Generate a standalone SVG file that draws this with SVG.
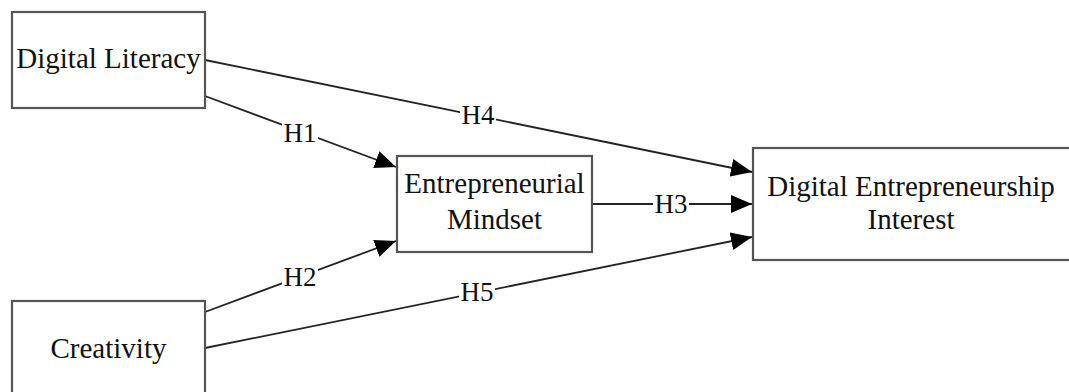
<svg xmlns="http://www.w3.org/2000/svg" width="1069" height="392" viewBox="0 0 1069 392">
<style>
.box{fill:#fff;stroke:#555;stroke-width:2.2}
.t{font-family:"Liberation Serif","Times New Roman",serif;font-size:29px;fill:#111;text-anchor:middle}
.lb{font-family:"Liberation Serif","Times New Roman",serif;font-size:27px;fill:#111;text-anchor:middle;dominant-baseline:central}
.e{stroke:#222;stroke-width:1.8;fill:none;marker-end:url(#ah)}
.lbg{fill:#fff}
</style>
<defs>
<marker id="ah" markerUnits="userSpaceOnUse" markerWidth="22" markerHeight="18" viewBox="0 0 22 18" refX="21" refY="9" orient="auto">
<path d="M0,0 L21,9 L0,18 Z" fill="#000"/>
</marker>
</defs>
<rect width="1069" height="392" fill="#fff"/>
<g id="connectors">
<line class="e" x1="205" y1="60" x2="752" y2="172"/>
<line class="e" x1="205" y1="96" x2="396" y2="167"/>
<line class="e" x1="592" y1="204" x2="752" y2="204"/>
<line class="e" x1="205" y1="312" x2="396" y2="241"/>
<line class="e" x1="205" y1="348" x2="752" y2="237"/>
<rect class="lbg" x="460" y="102" width="36" height="26"/>
<text class="lb" x="478" y="115">H4</text>
<rect class="lbg" x="282" y="120" width="36" height="26"/>
<text class="lb" x="300" y="133">H1</text>
<rect class="lbg" x="653" y="191" width="36" height="26"/>
<text class="lb" x="671" y="204">H3</text>
<rect class="lbg" x="282" y="264" width="36" height="26"/>
<text class="lb" x="300" y="277">H2</text>
<rect class="lbg" x="459" y="279" width="36" height="26"/>
<text class="lb" x="477" y="292">H5</text>
</g>
<g id="digital-literacy">
<rect class="box" x="12" y="12" width="193" height="96"/>
<text class="t" x="108.5" y="68">Digital Literacy</text>
</g>
<g id="creativity">
<rect class="box" x="12" y="301" width="193" height="100"/>
<text class="t" x="108.5" y="358">Creativity</text>
</g>
<g id="entrepreneurial-mindset">
<rect class="box" x="397" y="156" width="195" height="96"/>
<text class="t" x="494.5" y="193">Entrepreneurial</text>
<text class="t" x="494.5" y="229">Mindset</text>
</g>
<g id="digital-entrepreneurship-interest">
<rect class="box" x="753" y="148" width="320" height="112"/>
<text class="t" x="911" y="196">Digital Entrepreneurship</text>
<text class="t" x="911" y="229">Interest</text>
</g>
</svg>
